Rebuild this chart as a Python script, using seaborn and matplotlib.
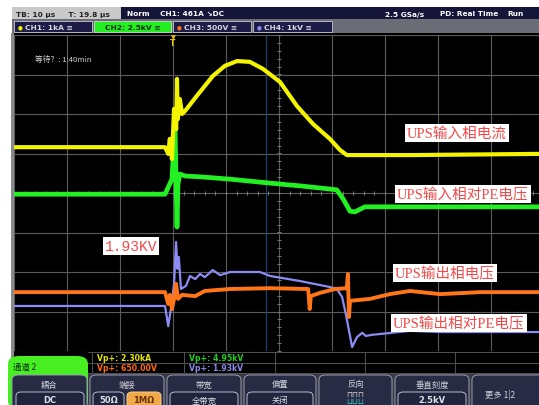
import numpy as np
import pandas as pd
import seaborn as sns
import matplotlib
matplotlib.use("Agg")
import matplotlib.pyplot as plt
from matplotlib.patches import Rectangle, FancyBboxPatch

# ---------------- data (time in µs, value in screen divisions) ----------------
ch1_t = [-30.0, -1.5, -0.9, -0.6, -0.2, 0.2, 0.6, 0.75, 0.9, 1.3, 1.7, 2.3, 4.5, 7.5,
         9.8, 12.1, 14.5, 17.0, 20.2, 23.4, 26.4, 29.6, 31.5, 32.8, 45.0, 69.1]
ch1_v = [1.16, 1.16, 0.99, 1.37, 0.86, 2.13, 1.62, 2.89, 1.87, 2.38, 2.00, 2.08, 2.46, 2.96,
         3.22, 3.34, 3.32, 3.14, 2.81, 2.20, 1.75, 1.37, 1.09, 0.96, 0.96, 0.99]

ch2_t = [-30.0, -1.5, -0.2, 0.38, 0.57, 0.75, 0.94, 1.3, 2.3, 5.1, 10.8, 18.3, 24.0,
         29.6, 30.9, 32.1, 33.4, 34.3, 36.2, 39.1, 69.1]
ch2_v = [-0.03, -0.03, 0.35, 1.70, 0.35, -0.86, 0.23, 0.48, 0.43, 0.41, 0.35, 0.25, 0.18,
         0.10, 0.08, -0.15, -0.46, -0.48, -0.35, -0.35, -0.35]

ch3_t = [-30.0, -1.5, -0.9, -0.6, -0.2, 0.2, 0.57, 0.94, 1.7, 4.2, 6.0, 10.8, 18.3, 25.5,
         25.8, 26.0, 27.7, 30.6, 32.8, 33.0, 33.2, 33.4, 37.2, 40.9, 44.7, 50.4, 57.9, 69.1]
ch3_v = [-2.51, -2.51, -2.81, -2.58, -2.94, -2.68, -2.30, -2.68, -2.58, -2.61, -2.48, -2.43,
         -2.41, -2.43, -2.94, -2.61, -2.53, -2.43, -2.41, -2.05, -3.14, -2.73, -2.68, -2.56,
         -2.48, -2.56, -2.51, -2.51]

ch4_t = [-30.0, -1.5, -0.9, -0.4, 0.2, 0.57, 0.85, 1.1, 1.5, 2.45, 3.2, 4.2, 5.1, 6.0, 7.5,
         8.9, 10.8, 16.4, 18.3, 24.0, 29.6, 30.9, 31.9, 32.6, 33.8, 34.7, 35.7, 36.4, 37.5,
         39.1, 44.7, 50.4, 69.1]
ch4_v = [-2.86, -2.86, -3.37, -2.94, -2.30, -1.24, -1.92, -1.62, -2.43, -2.35, -2.10, -2.18,
         -2.05, -2.13, -1.95, -2.08, -2.00, -2.00, -2.10, -2.23, -2.38, -2.43, -2.63, -3.06,
         -3.90, -3.65, -3.54, -3.62, -3.59, -3.57, -3.49, -3.52, -3.52]

trace_names = ["CH1", "CH2", "CH3", "CH4"]
trace_colors = {"CH1": "#f4f400", "CH2": "#22f022", "CH3": "#ff7518", "CH4": "#8c8cf4"}
trace_widths = {"CH1": 3.0, "CH2": 3.4, "CH3": 2.8, "CH4": 1.6}

labels = ["UPS输入相电流", "UPS输入相对PE电压", "1.93KV", "UPS输出相电压", "UPS输出相对PE电压"]
tab_labels = ["CH1: 1kA", "CH2: 2.5kV", "CH3: 500V", "CH4: 1kV"]
meas_labels = ["Vp+: 2.30kA", "Vp+: 650.00V", "Vp+: 4.95kV", "Vp+: 1.93kV"]
button_titles = ["耦合", "端接", "带宽", "偏置", "反向", "垂直刻度"]

# ---------------- figure ----------------
sns.set_theme(style="dark")
CJK = ["Noto Sans CJK SC", "DejaVu Sans"]
plt.rcParams["font.family"] = ["DejaVu Sans", "Noto Sans CJK SC"]

W, H = 539, 406
fig = plt.figure(figsize=(W / 100, H / 100), dpi=100, facecolor="white")


def fx(x):
    return x / W


def fy(y):
    return 1 - y / H


def rect(x0, y0, x1, y1, fc, ec="none", lw=0.0, z=0, rounded=None):
    if rounded:
        p = FancyBboxPatch((fx(x0), fy(y1)), (x1 - x0) / W, (y1 - y0) / H,
                           boxstyle=f"round,pad=0,rounding_size={rounded}",
                           transform=fig.transFigure, fc=fc, ec=ec, lw=lw, zorder=z)
    else:
        p = Rectangle((fx(x0), fy(y1)), (x1 - x0) / W, (y1 - y0) / H,
                      transform=fig.transFigure, fc=fc, ec=ec, lw=lw, zorder=z)
    fig.add_artist(p)
    return p


def ftext(x, y, s, **kw):
    kw.setdefault("va", "center")
    kw.setdefault("ha", "left")
    return fig.text(fx(x), fy(y), s, **kw)


# header bar
rect(12, 8, 539, 20, "#15153a", z=1)
rect(12, 8, 121, 20, "#c9c9c9", z=2)
ftext(16, 14.5, "TB: 10 µs     T: 19.8 µs", color="#222222", fontsize=5.3, fontweight="bold", zorder=3)
ftext(127, 14.5, "Norm    CH1: 461A ↘DC", color="white", fontsize=5.3, fontweight="bold", zorder=3)
ftext(385, 14.5, "2.5 GSa/s", color="white", fontsize=5.3, fontweight="bold", zorder=3)
ftext(440, 14.5, "PD: Real Time", color="white", fontsize=5.3, fontweight="bold", zorder=3)
ftext(507, 14.5, "Run", color="white", fontsize=5.3, fontweight="bold", zorder=3)

# channel tab bar
rect(12, 20, 539, 34, "#6c6c76", z=1)
tab_x = [(14, 92), (94, 171), (173, 251), (253, 332)]
for i, (x0, x1) in enumerate(tab_x):
    name = trace_names[i]
    if i == 1:
        rect(x0, 22, x1, 32.5, "#22ee22", ec="#d0d0d0", lw=0.6, z=2)
        tc = "#0a2a0a"
    else:
        rect(x0, 22, x1, 32.5, "#1c1c46", ec="#c8c8d0", lw=0.6, z=2)
        tc = "#d8d8e0"
    ftext(x0 + 4, 27.5, "●", color=trace_colors[name], fontsize=4, zorder=3)
    ftext(x0 + 11, 27.5, tab_labels[i] + " ≡", color=tc, fontsize=5.4, fontweight="bold", zorder=3)

# screen background
rect(12, 34, 539, 374, "black", z=0)
rect(11, 34, 14, 406, "#8a8a8a", z=1)

# ---------------- plot axes ----------------
ax = fig.add_axes([14 / W, 1 - 352 / H, 530 / W, 316 / H])
ax.set_facecolor("black")
ax.set_xlim(-30, 70)
ax.set_ylim(-4, 4)
for s in ax.spines.values():
    s.set_visible(False)
ax.set_xticks([])
ax.set_yticks([])
ax.grid(False)
for t in np.arange(-30, 71, 10):
    ax.axvline(t, color="#5c5c5c", lw=0.8, zorder=1)
for v in np.arange(-4, 5, 1):
    ax.axhline(v, color="#5c5c5c", lw=0.8, zorder=1)
# centre-line ticks
ax.plot(np.arange(-30, 70.1, 2), np.zeros(51), ls="none", marker="|", ms=3,
        color="#7a7a7a", mew=0.7, zorder=1)
ax.plot(np.full(41, 20.0), np.arange(-4, 4.01, 0.2), ls="none", marker="_", ms=3,
        color="#7a7a7a", mew=0.7, zorder=1)
ax.axvline(17.5, color="#1a4270", lw=0.9, zorder=1)

series = {"CH1": (ch1_t, ch1_v), "CH2": (ch2_t, ch2_v), "CH3": (ch3_t, ch3_v), "CH4": (ch4_t, ch4_v)}
for name in ["CH4", "CH3", "CH2", "CH1"]:
    tt, vv = series[name]
    df = pd.DataFrame({"t": tt, "v": vv})
    sns.lineplot(data=df, x="t", y="v", ax=ax, color=trace_colors[name],
                 lw=trace_widths[name], sort=False, estimator=None, zorder=3)
ax.set_xlabel("")
ax.set_ylabel("")

# trigger marker
ftext(173, 37.5, "▼", color="#e8c800", fontsize=4.5, ha="center", zorder=5)
ftext(173, 43.5, "T", color="#e8c800", fontsize=5.5, ha="center", fontweight="bold", zorder=5)

# wait text
ftext(35, 60, "等待？: 1:40min", color="#d0d0d0", fontsize=5.6, family=CJK, zorder=5)

# red annotation labels
SERIF = ["Liberation Serif", "Noto Sans CJK SC"]
box = dict(boxstyle="square,pad=0.12", fc="white", ec="none")
ann_pos = [(457, 134), (463, 195), (131, 247), (445, 274), (459, 324)]
for lab, (x, y) in zip(labels, ann_pos):
    fam = ["Liberation Mono"] if lab == "1.93KV" else SERIF
    ftext(x, y, lab, color="#f24a4a", fontsize=10.5, ha="center", family=fam,
          bbox=box, zorder=6)

# ---------------- measurement area ----------------
for y in (353, 363.5, 374):
    fig.add_artist(plt.Line2D([fx(88), fx(539)], [fy(y), fy(y)], transform=fig.transFigure,
                              color="#505050", lw=0.7, zorder=2))
for x in (92, 184, 275, 365, 455):
    fig.add_artist(plt.Line2D([fx(x), fx(x)], [fy(353), fy(374)], transform=fig.transFigure,
                              color="#505050", lw=0.7, zorder=2))
meas_pos = [(97, 358.5), (97, 369), (189, 358.5), (189, 369)]
meas_cols = ["#e8e800", "#ff6a10", "#22d022", "#8a8ae8"]
for lab, (x, y), c in zip(meas_labels, meas_pos, meas_cols):
    ftext(x, y, lab, color=c, fontsize=5.6, fontweight="bold", zorder=4)

# bottom button panel
rect(14, 374, 539, 406, "#3a3a46", z=1)
rect(8, 357, 88, 410, "#46ee22", z=3, rounded=0.02)
ftext(13, 367.5, "通道 2", color="#0a2a0a", fontsize=6, family=CJK, zorder=4)

btn_x = [(12, 87), (90, 164), (167, 241), (244, 316), (319, 392), (395, 469), (472, 545)]
for i, (x0, x1) in enumerate(btn_x):
    rect(x0, 376, x1, 412, "#272b44", ec="#9a9eb2", lw=0.7, z=4, rounded=0.012)
    cx = (x0 + x1) / 2
    if i < len(button_titles):
        ftext(cx, 385, button_titles[i], color="#d4d4dc", fontsize=6, ha="center",
              family=CJK, zorder=6)

# inner value boxes
rect(16, 393, 84, 410, "#20243c", ec="#b8bccc", lw=0.7, z=5, rounded=0.01)
ftext(50, 401, "DC", color="#e0e0e8", fontsize=6, ha="center", fontweight="bold", zorder=6)
rect(93, 393, 124, 410, "#20243c", ec="#b8bccc", lw=0.7, z=5, rounded=0.01)
ftext(108.5, 401, "50Ω", color="#e0e0e8", fontsize=6, ha="center", fontweight="bold", zorder=6)
rect(127, 393, 161, 410, "#f0a848", ec="#f8d090", lw=0.7, z=5, rounded=0.01)
ftext(144, 401, "1MΩ", color="#6a3000", fontsize=6, ha="center", fontweight="bold", zorder=6)
rect(170, 393, 238, 410, "#20243c", ec="#b8bccc", lw=0.7, z=5, rounded=0.01)
ftext(204, 401, "全带宽", color="#e0e0e8", fontsize=6, ha="center", family=CJK, zorder=6)
rect(247, 393, 313, 410, "#20243c", ec="#b8bccc", lw=0.7, z=5, rounded=0.01)
ftext(280, 401, "关闭", color="#e0e0e8", fontsize=6, ha="center", family=CJK, zorder=6)
ftext(355.5, 394, "⊓⊓⊓", color="#d0d0d8", fontsize=5.5, ha="center", zorder=6)
ftext(355.5, 401.5, "⊔⊔⊔", color="#40c8d0", fontsize=5.5, ha="center", zorder=6)
rect(398, 393, 466, 410, "#20243c", ec="#b8bccc", lw=0.7, z=5, rounded=0.01)
ftext(432, 401, "2.5kV", color="#e0e0e8", fontsize=6, ha="center", fontweight="bold", zorder=6)
ftext(500, 395, "更多 1|2", color="#d4d4dc", fontsize=6, ha="center", family=CJK, zorder=6)

fig.savefig("out.png", dpi=100, facecolor="white")
